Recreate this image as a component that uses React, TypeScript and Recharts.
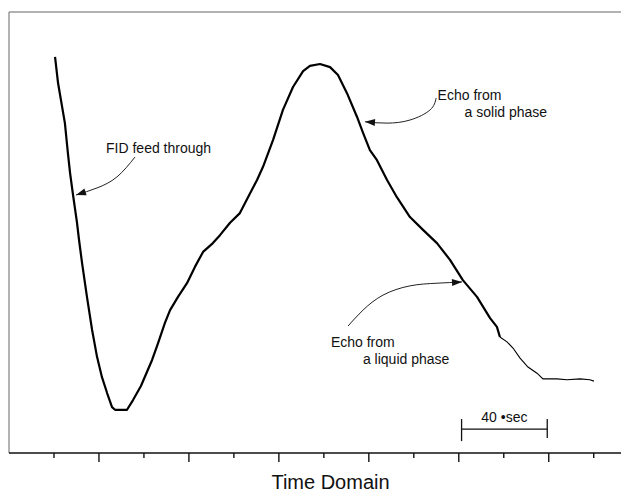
import { LineChart, Line, XAxis, YAxis, ReferenceLine, ReferenceDot } from 'recharts';

// time in µs, signal in % of full scale (0 = axis, 100 = top of frame)
const echoTime = [
  21.5, 22.9, 26.1, 27.5, 28.5, 29.9, 31.7, 32.7, 34.1, 36.4, 38.8, 41.1, 43.4, 45.8, 48.1, 49.5,
  55.1, 57.9, 61.6, 66.8, 69.6, 72.8, 75.2, 78.9, 83.1, 86.8, 90.6, 95.2, 98.5, 103.2, 107.8, 111.6,
  115.8, 118.6, 123.3, 127.9, 132.6, 137.3, 140.5, 145.2, 149.9, 153.6, 157.8, 162.5, 165.3, 168.5,
  171.8, 176.5, 181.1, 187.2, 193.3, 199.8, 205.9, 211.9, 218.5, 224.6, 227.8, 229.2, 232.5, 235.3,
  238.6, 242.3, 246.5, 249.3, 255.8, 260.5, 266.6, 271.2, 273.1,
];
const echoSignal = [
  89.8, 83.9, 74.8, 68.0, 63.5, 58.5, 52.4, 48.3, 43.1, 35.4, 27.9, 21.8, 17.2, 13.6, 10.4, 9.8,
  9.8, 12.0, 15.2, 21.1, 24.9, 29.5, 32.4, 35.4, 38.5, 42.2, 45.6, 47.6, 49.4, 52.2, 54.4, 58.0,
  61.9, 64.9, 71.0, 77.8, 83.0, 86.6, 87.8, 88.2, 87.5, 85.7, 81.6, 76.2, 72.6, 68.7,
  66.4, 61.9, 58.0, 53.5, 50.6, 47.6, 43.8, 39.2, 35.4, 30.6, 28.6, 26.3, 25.2, 23.8,
  21.5, 19.5, 18.1, 16.8, 16.8, 16.6, 16.8, 16.6, 16.3,
];
const thinFrom = 229.2; // trace gets drawn with a thinner pen after this

const timeTicks = [0, 21, 42, 63, 84, 105, 126, 147, 168, 189, 210, 231, 252, 273];

const fidArrowT = [58.8, 50.4, 41.1, 31.3];
const fidArrowV = [67.1, 62.6, 60.1, 58.5];
const solidArrowT = [199.4, 196.6, 187.2, 176.5, 166.2];
const solidArrowV = [80.5, 77.8, 75.5, 74.8, 75.1];
const liquidArrowT = [158.3, 165.3, 174.6, 187.2, 199.8, 211.5];
const liquidArrowV = [28.8, 32.4, 35.8, 37.9, 38.5, 38.8];

const notes = [
  { t: 45.3, v: 68.0, lines: ['FID feed through'], indent: 0 },
  { t: 200.1, v: 80.0, lines: ['Echo from', 'a solid phase'], indent: 27 },
  { t: 150.3, v: 24.0, lines: ['Echo from', 'a liquid phase'], indent: 32 },
];

const barStart = 211.3;
const barLength = 40;
const barLevel = 5.4;
const barLabel = '40 •sec';
const axisTitle = 'Time Domain';

const W = 620;
const H = 490;
const MARGIN = { top: 4, right: 0, bottom: 0, left: 1 };
const AXIS_H = 45;
const T_MAX = 289;
const kx = (W - MARGIN.left - MARGIN.right) / T_MAX;
const ky = (H - MARGIN.top - MARGIN.bottom - AXIS_H) / 100;
const FONT = '"Liberation Sans", Arial, Helvetica, sans-serif';

const rows = echoTime.map((t, i) => ({
  t,
  main: t <= thinFrom ? echoSignal[i] : null,
  tail: t >= thinFrom ? echoSignal[i] : null,
}));

const toPts = (ts: number[], vs: number[]) => ts.map((t, i) => ({ t, v: vs[i] }));

const arrowHead = (ts: number[], vs: number[]) => (p: any) => {
  const n = ts.length - 1;
  if (p.index !== n) return <g key={`d${p.index}`} />;
  const dx = (ts[n] - ts[n - 1]) * kx;
  const dy = -(vs[n] - vs[n - 1]) * ky;
  const len = Math.hypot(dx, dy) || 1;
  const ux = dx / len, uy = dy / len;
  const bx = p.cx - ux * 10, by = p.cy - uy * 10;
  const pts = `${p.cx},${p.cy} ${bx - uy * 3.5},${by + ux * 3.5} ${bx + uy * 3.5},${by - ux * 3.5}`;
  return <polygon key="head" points={pts} fill="#111" stroke="none" />;
};

const noteLabel = (lines: string[], indent: number) => (props: any) => {
  const { x, y } = props.viewBox;
  return (
    <text x={x} y={y} fontFamily={FONT} fontSize={14} fill="#111">
      {lines.map((s, i) => (
        <tspan key={s} x={x + (i ? indent : 0)} y={y + i * 17}>{s}</tspan>
      ))}
    </text>
  );
};

const TickMark = (props: any) => {
  const { x, y, index } = props;
  return <line x1={x} x2={x} y1={y} y2={y + (index % 2 ? 9 : 5)} stroke="#111" strokeWidth={1.4} />;
};

const AxisTitle = (props: any) => {
  const { x, y, width } = props.viewBox;
  return (
    <text x={x + width / 2 + 12} y={y + 36} textAnchor="middle" fontFamily={FONT} fontSize={20} fill="#111">
      {axisTitle}
    </text>
  );
};

export default function App() {
  return (
    <div style={{ width: W, height: H, marginBottom: -8 }}>
      <style>{'html, body { overflow: hidden; } .recharts-wrapper svg { overflow: visible; }'}</style>
      <LineChart width={W} height={H} data={rows} margin={MARGIN}>
        <XAxis
          dataKey="t"
          type="number"
          domain={[0, T_MAX]}
          ticks={timeTicks}
          allowDataOverflow
          height={AXIS_H}
          tickSize={0}
          tickMargin={0}
          tickLine={false}
          tick={<TickMark />}
          axisLine={{ stroke: '#111', strokeWidth: 1.6 }}
          label={<AxisTitle />}
        />
        <YAxis hide domain={[0, 100]} allowDataOverflow />
        <ReferenceLine y={100} stroke="#666" strokeWidth={1} />
        <ReferenceLine x={0} stroke="#666" strokeWidth={1} />

        <Line dataKey="main" stroke="#000" strokeWidth={2.2} dot={false} type="linear" strokeLinejoin="round" isAnimationActive={false} />
        <Line dataKey="tail" stroke="#000" strokeWidth={1.1} dot={false} type="linear" isAnimationActive={false} />

        <Line data={toPts(fidArrowT, fidArrowV)} dataKey="v" stroke="#222" strokeWidth={1} type="natural" dot={arrowHead(fidArrowT, fidArrowV)} isAnimationActive={false} />
        <Line data={toPts(solidArrowT, solidArrowV)} dataKey="v" stroke="#222" strokeWidth={1} type="natural" dot={arrowHead(solidArrowT, solidArrowV)} isAnimationActive={false} />
        <Line data={toPts(liquidArrowT, liquidArrowV)} dataKey="v" stroke="#222" strokeWidth={1} type="natural" dot={arrowHead(liquidArrowT, liquidArrowV)} isAnimationActive={false} />

        {notes.map((n) => (
          <ReferenceDot key={n.lines[0] + n.t} x={n.t} y={n.v} r={0} stroke="none" label={noteLabel(n.lines, n.indent)} />
        ))}

        <ReferenceLine segment={[{ x: barStart, y: barLevel }, { x: barStart + barLength, y: barLevel }]} stroke="#111" strokeWidth={1.3} />
        <ReferenceLine segment={[{ x: barStart, y: 2.7 }, { x: barStart, y: 7.7 }]} stroke="#111" strokeWidth={1.3} />
        <ReferenceLine segment={[{ x: barStart + barLength, y: 3.4 }, { x: barStart + barLength, y: 7.7 }]} stroke="#111" strokeWidth={1.3} />
        <ReferenceDot
          x={barStart + barLength / 2}
          y={7.0}
          r={0}
          stroke="none"
          label={(props: any) => (
            <text x={props.viewBox.x} y={props.viewBox.y} textAnchor="middle" fontFamily={FONT} fontSize={14} fill="#111">
              {barLabel}
            </text>
          )}
        />
      </LineChart>
    </div>
  );
}
